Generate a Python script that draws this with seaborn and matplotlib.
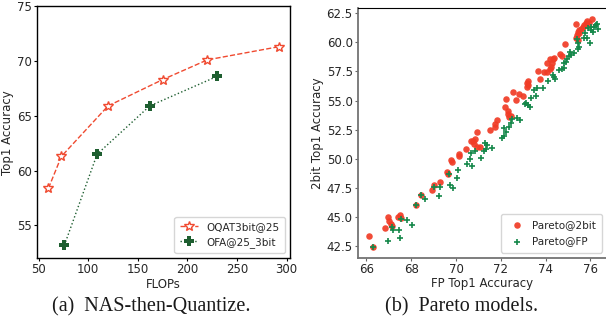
import matplotlib
matplotlib.use("Agg")
from matplotlib import pyplot as plt
import seaborn as sns
import pandas as pd

# left panel: NAS-then-Quantize
oqat_flops = [60, 73, 120, 175, 220, 292]
oqat_acc = [58.4, 61.3, 65.9, 68.3, 70.1, 71.3]
ofa_flops = [76, 109, 162, 230]
ofa_acc = [53.2, 61.5, 65.9, 68.6]

# right panel: Pareto models (FP top1, 2bit top1)
p2_fp = [66.12, 66.31, 66.84, 66.96, 67.00, 67.10, 67.14, 67.39, 67.51, 67.54,
         68.22, 68.42, 68.93, 69.02, 69.27, 69.60, 69.66, 69.78, 69.83, 70.11,
         70.12, 70.44, 70.65, 70.77, 70.80, 70.84, 70.92, 70.95, 71.07, 71.50,
         71.73, 71.73, 71.82, 72.17, 72.30, 72.34, 72.37, 72.47, 72.56, 72.23,
         72.67, 72.82, 72.97, 73.19, 73.19, 73.20, 73.22, 73.67, 73.76, 73.91,
         74.04, 74.06, 74.20, 74.20, 74.24, 74.27, 74.31, 74.39, 74.65, 74.73,
         74.85, 75.36, 75.36, 75.40, 75.43, 75.43, 75.51, 75.51, 75.58, 75.66,
         75.73, 75.81, 75.85, 75.93, 76.06]
p2_q = [43.38, 42.40, 44.00, 45.00, 44.64, 44.35, 44.18, 44.96, 45.13, 44.90,
        46.05, 46.88, 47.34, 47.70, 47.97, 48.84, 48.72, 49.84, 49.67, 50.20,
        50.39, 50.82, 51.48, 51.50, 51.28, 51.68, 50.96, 52.31, 51.02, 52.43,
        52.69, 52.97, 53.32, 54.41, 54.07, 53.81, 53.60, 53.69, 55.70, 55.10,
        55.04, 55.56, 55.39, 56.14, 56.48, 56.68, 56.34, 57.52, 56.83, 57.48,
        57.48, 58.20, 58.55, 57.69, 57.92, 58.20, 58.55, 58.64, 59.00, 58.84,
        59.84, 61.59, 60.36, 60.65, 60.93, 60.21, 60.79, 61.08, 61.14, 61.37,
        61.51, 61.66, 61.88, 61.66, 62.00]
pfp_fp = [66.31, 66.94, 67.14, 67.17, 67.47, 67.48, 67.56, 67.81, 68.04, 68.22,
          68.42, 68.63, 69.02, 69.23, 69.29, 69.68, 69.71, 69.86, 70.05, 70.10,
          70.47, 70.62, 70.65, 70.73, 70.84, 71.13, 71.25, 71.29, 71.34, 71.37,
          71.62, 72.07, 72.12, 72.14, 72.22, 72.37, 72.47, 72.52, 72.74, 72.85,
          73.07, 73.12, 73.22, 73.31, 73.33, 73.49, 73.58, 73.61, 73.87, 74.09,
          74.31, 74.36, 74.43, 74.58, 74.72, 74.83, 74.83, 74.91, 74.96, 75.06,
          75.09, 75.13, 75.28, 75.40, 75.43, 75.43, 75.51, 75.73, 75.76, 75.85,
          75.91, 75.96, 76.03, 76.03, 76.10, 76.15, 76.26, 76.30, 76.36]
pfp_q = [42.40, 42.90, 44.10, 43.90, 43.84, 43.15, 44.84, 44.76, 44.30, 46.05,
         46.88, 46.50, 47.60, 46.77, 47.57, 48.66, 47.70, 47.50, 48.30, 49.00,
         49.50, 50.01, 50.50, 49.38, 50.65, 50.07, 50.65, 51.36, 50.79, 51.19,
         50.88, 51.74, 51.94, 52.60, 52.31, 52.74, 53.09, 53.38, 53.52, 53.32,
         54.70, 54.76, 54.61, 54.47, 55.19, 55.91, 55.39, 56.10, 56.05, 56.70,
         57.20, 57.00, 56.83, 57.63, 57.69, 57.83, 58.20, 58.34, 58.55, 58.84,
         59.21, 58.92, 59.12, 60.28, 59.41, 59.93, 59.64, 60.36, 60.79, 60.36,
         61.20, 59.93, 61.08, 61.37, 60.93, 61.37, 61.51, 61.59, 61.14]

sns.set_style("white")
plt.rcParams['font.family'] = ['DejaVu Sans']
plt.rcParams['font.size'] = 8.5
text_col = '.15'

fig = plt.figure(figsize=(6.06, 3.23), dpi=100)

# ---- left panel
ax1 = fig.add_axes([0.061, 0.2, 0.418, 0.781])
sns.lineplot(x=oqat_flops, y=oqat_acc, ax=ax1, color='#f04a30', linestyle='--', linewidth=1,
             marker='*', markersize=7, markerfacecolor='white', markeredgecolor='#f04a30',
             markeredgewidth=1, label='OQAT3bit@25')
sns.lineplot(x=ofa_flops, y=ofa_acc, ax=ax1, color='#1e5e30', linestyle=':', linewidth=1,
             marker='P', markersize=7, markeredgewidth=0, label='OFA@25_3bit')
ax1.set_xlim(48.4, 303.6)
ax1.set_ylim(52, 75)
ax1.set_xticks([50, 100, 150, 200, 250, 300])
ax1.set_yticks([55, 60, 65, 70, 75])
ax1.set_xlabel('FLOPs', fontsize=8.5, color=text_col, labelpad=1)
ax1.set_ylabel('Top1 Accuracy', fontsize=8.5, color=text_col, labelpad=2)
ax1.tick_params(labelsize=8.5, colors=text_col, length=2.5, pad=1, color='k',
                bottom=True, left=True)
for s in ax1.spines.values():
    s.set_color('k')
    s.set_linewidth(1)
ax1.legend(loc='lower right', fontsize=7.5, frameon=True, handlelength=1.8,
           borderpad=0.5, labelspacing=0.5)

# ---- right panel
ax2 = fig.add_axes([0.59, 0.202, 0.412, 0.772])
sns.scatterplot(x=p2_fp, y=p2_q, ax=ax2, color='#f03c26', marker='o', s=22,
                linewidth=0, alpha=0.92, label='Pareto@2bit')
sns.scatterplot(x=pfp_fp, y=pfp_q, ax=ax2, color='#15884a', marker='+', s=18,
                linewidth=1.2, label='Pareto@FP')
ax2.set_xlim(65.6, 76.75)
ax2.set_ylim(41.47, 62.93)
ax2.set_xticks([66, 68, 70, 72, 74, 76])
ax2.set_yticks([42.5, 45.0, 47.5, 50.0, 52.5, 55.0, 57.5, 60.0, 62.5])
ax2.set_yticklabels(['42.5', '45.0', '47.5', '50.0', '52.5', '55.0', '57.5', '60.0', '62.5'])
ax2.set_xlabel('FP Top1 Accuracy', fontsize=8.5, color=text_col, labelpad=1)
ax2.set_ylabel('2bit Top1 Accuracy', fontsize=8.5, color=text_col, labelpad=2)
ax2.tick_params(labelsize=8.5, colors=text_col, length=2.5, pad=1, color='.4',
                bottom=True, left=True)
ax2.spines['top'].set_color('k')
ax2.spines['right'].set_visible(False)
for side in ['left', 'bottom']:
    ax2.spines[side].set_color('.45')
    ax2.spines[side].set_linewidth(1.3)
ax2.legend(loc='lower right', fontsize=7.5, frameon=True, borderpad=0.6,
           labelspacing=0.6, handletextpad=0.4)

# captions
fig.text(0.25, 0.05, '(a)  NAS-then-Quantize.', ha='center', va='center',
         fontsize=14.5, family=['Liberation Serif'], color='.1')
fig.text(0.762, 0.05, '(b)  Pareto models.', ha='center', va='center',
         fontsize=14.5, family=['Liberation Serif'], color='.1')

fig.savefig('out.png', dpi=100)
